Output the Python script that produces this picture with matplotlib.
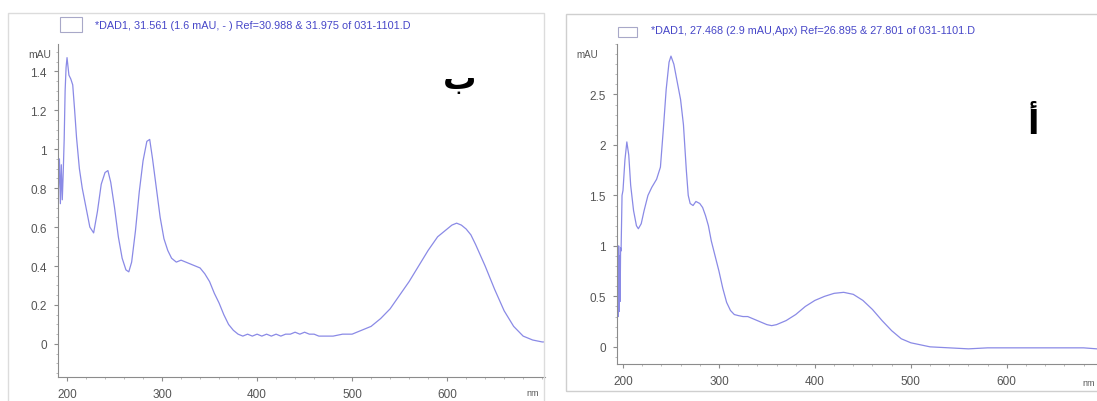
import matplotlib
matplotlib.use("Agg")
import matplotlib.pyplot as plt
from matplotlib.patches import Rectangle
from matplotlib.ticker import MultipleLocator

# panel "ب" (left)
wl_b = [191, 192, 193, 194, 195, 196, 197, 198, 199, 200, 202, 204, 206, 208, 210,
        213, 216, 220, 224, 228, 232, 236, 240, 243, 246, 250, 254, 258, 262, 265,
        268, 272, 276, 280, 284, 287, 290, 294, 298, 302, 306, 310, 315, 320, 325,
        330, 335, 340, 345, 350, 355, 360, 365, 370, 375, 380, 385, 390, 395, 400,
        405, 410, 415, 420, 425, 430, 435, 440, 445, 450, 455, 460, 465, 470, 475,
        480, 490, 500, 510, 520, 530, 540, 550, 560, 570, 580, 590, 600, 605, 610,
        615, 620, 625, 630, 640, 650, 660, 670, 680, 690, 700, 703]
abs_b = [0.80, 0.95, 0.72, 0.92, 0.74, 0.88, 1.05, 1.30, 1.42, 1.47, 1.38, 1.36, 1.33, 1.20, 1.06,
         0.90, 0.80, 0.70, 0.60, 0.57, 0.68, 0.82, 0.88, 0.89, 0.83, 0.70, 0.55, 0.44, 0.38, 0.37,
         0.42, 0.58, 0.78, 0.94, 1.04, 1.05, 0.95, 0.80, 0.65, 0.54, 0.48, 0.44, 0.42, 0.43, 0.42,
         0.41, 0.40, 0.39, 0.36, 0.32, 0.26, 0.21, 0.15, 0.10, 0.07, 0.05, 0.04, 0.05, 0.04, 0.05,
         0.04, 0.05, 0.04, 0.05, 0.04, 0.05, 0.05, 0.06, 0.05, 0.06, 0.05, 0.05, 0.04, 0.04, 0.04,
         0.04, 0.05, 0.05, 0.07, 0.09, 0.13, 0.18, 0.25, 0.32, 0.40, 0.48, 0.55, 0.59, 0.61, 0.62,
         0.61, 0.59, 0.56, 0.51, 0.40, 0.28, 0.17, 0.09, 0.04, 0.02, 0.01, 0.01]
yticks_b = [0, 0.2, 0.4, 0.6, 0.8, 1, 1.2, 1.4]
ylabels_b = ["0", "0.2", "0.4", "0.6", "0.8", "1", "1.2", "1.4"]
title_b = "*DAD1, 31.561 (1.6 mAU, - ) Ref=30.988 & 31.975 of 031-1101.D"

# panel "أ" (right)
wl_a = [194, 194.5, 195, 195.5, 196, 196.5, 197, 197.5, 198, 199, 200, 202, 204, 206, 208,
        211, 214, 216, 219, 222, 226, 230, 235, 239, 242, 245, 248, 250, 253, 256,
        260, 263, 266, 268, 270, 273, 276, 280, 283, 286, 289, 292, 296, 300, 304,
        308, 312, 316, 320, 325, 330, 335, 340, 345, 350, 355, 360, 365, 370, 375,
        380, 390, 400, 410, 420, 430, 440, 450, 460, 470, 480, 490, 500, 510, 520,
        540, 560, 580, 600, 620, 640, 660, 680, 694]
abs_a = [0.50, 0.95, 0.30, 1.00, 0.35, 0.90, 0.45, 0.98, 0.95, 1.50, 1.55, 1.85, 2.03, 1.90, 1.60,
         1.35, 1.20, 1.17, 1.22, 1.35, 1.50, 1.58, 1.66, 1.78, 2.15, 2.55, 2.82, 2.88, 2.80, 2.65,
         2.45, 2.20, 1.75, 1.50, 1.42, 1.40, 1.44, 1.42, 1.38, 1.30, 1.20, 1.05, 0.90, 0.75, 0.58,
         0.44, 0.36, 0.32, 0.31, 0.30, 0.30, 0.28, 0.26, 0.24, 0.22, 0.21, 0.22, 0.24, 0.26, 0.29,
         0.32, 0.40, 0.46, 0.50, 0.53, 0.54, 0.52, 0.46, 0.37, 0.26, 0.16, 0.08, 0.04, 0.02, 0.00,
         -0.01, -0.02, -0.01, -0.01, -0.01, -0.01, -0.01, -0.01, -0.02]
yticks_a = [0, 0.5, 1, 1.5, 2, 2.5]
ylabels_a = ["0", "0.5", "1", "1.5", "2", "2.5"]
title_a = "*DAD1, 27.468 (2.9 mAU,Apx) Ref=26.895 & 27.801 of 031-1101.D"

xticks = [200, 300, 400, 500, 600]

plt.rcParams['font.family'] = ['Liberation Sans', 'DejaVu Sans']
line_c = '#8a8ae6'
grey = '#8c8c8c'
txt_c = '#555555'
title_c = '#4646c8'

fig = plt.figure(figsize=(10.97, 4.02), dpi=100)

# light panel frames
fig.patches.append(Rectangle((8/1097, -0.01), 536/1097, 1 - 14/402 + 0.01, transform=fig.transFigure,
                             fill=False, edgecolor='#dcdcdc', lw=1))
fig.patches.append(Rectangle((566/1097, 1 - 392/402), 540/1097, (392 - 15)/402, transform=fig.transFigure,
                             fill=False, edgecolor='#cfcfcf', lw=1))


def style_axes(ax, xlim, ylim, yticks, ylabels, ymin):
    ax.set_xlim(*xlim)
    ax.set_ylim(*ylim)
    for s in ['top', 'right']:
        ax.spines[s].set_visible(False)
    for s in ['left', 'bottom']:
        ax.spines[s].set_color(grey)
        ax.spines[s].set_linewidth(0.8)
    ax.set_xticks(xticks)
    ax.set_yticks(yticks)
    ax.set_yticklabels(ylabels)
    ax.xaxis.set_minor_locator(MultipleLocator(20))
    ax.yaxis.set_minor_locator(MultipleLocator(ymin))
    ax.tick_params(which='major', length=3, color=grey, labelsize=8.5, labelcolor=txt_c, pad=5)
    ax.tick_params(which='minor', length=1.5, color='#b0b0b0')
    ax.patch.set_alpha(0)


# left panel
ax1 = fig.add_axes([58/1097, 1 - 378/402, 487/1097, 333/402])
ax1.plot(wl_b, abs_b, color=line_c, lw=0.9)
style_axes(ax1, (190.5, 703), (-0.17, 1.54), yticks_b, ylabels_b, 0.05)
ax1.text(-0.015, 0.97, "mAU", transform=ax1.transAxes, ha='right', va='center', fontsize=7.5, color=txt_c)
fig.text(533/1097, 1 - 394/402, "nm", ha='center', va='center', fontsize=6.5, color=txt_c)
fig.patches.append(Rectangle((60/1097, 1 - 33/402), 22/1097, 15/402, transform=fig.transFigure,
                             fill=False, edgecolor='#a8a8c8', lw=0.8))
fig.text(95/1097, 1 - 26/402, title_b, color=title_c, fontsize=7.8, va='center', ha='left')
fig.text(460/1097, 1 - 80/402, "ب", fontsize=24, fontweight='bold', family='DejaVu Sans',
         ha='center', va='center', color='black')

# right panel
ax2 = fig.add_axes([617/1097, 1 - 365/402, 480/1097, 320/402])
ax2.plot(wl_a, abs_a, color=line_c, lw=0.9)
style_axes(ax2, (193.75, 694), (-0.17, 3.0), yticks_a, ylabels_a, 0.1)
ax2.text(-0.04, 0.97, "mAU", transform=ax2.transAxes, ha='right', va='center', fontsize=7, color=txt_c)
fig.text(1095/1097, 1 - 384/402, "nm", ha='right', va='center', fontsize=6.5, color=txt_c)
fig.patches.append(Rectangle((618/1097, 1 - 38/402), 19/1097, 10/402, transform=fig.transFigure,
                             fill=False, edgecolor='#a8a8c8', lw=0.8))
fig.text(651/1097, 1 - 31/402, title_a, color=title_c, fontsize=7.8, va='center', ha='left')
fig.text(1033/1097, 1 - 125/402, "أ", fontsize=24, fontweight='bold', family='DejaVu Sans',
         ha='center', va='center', color='black')

fig.savefig("out.png", dpi=100)
